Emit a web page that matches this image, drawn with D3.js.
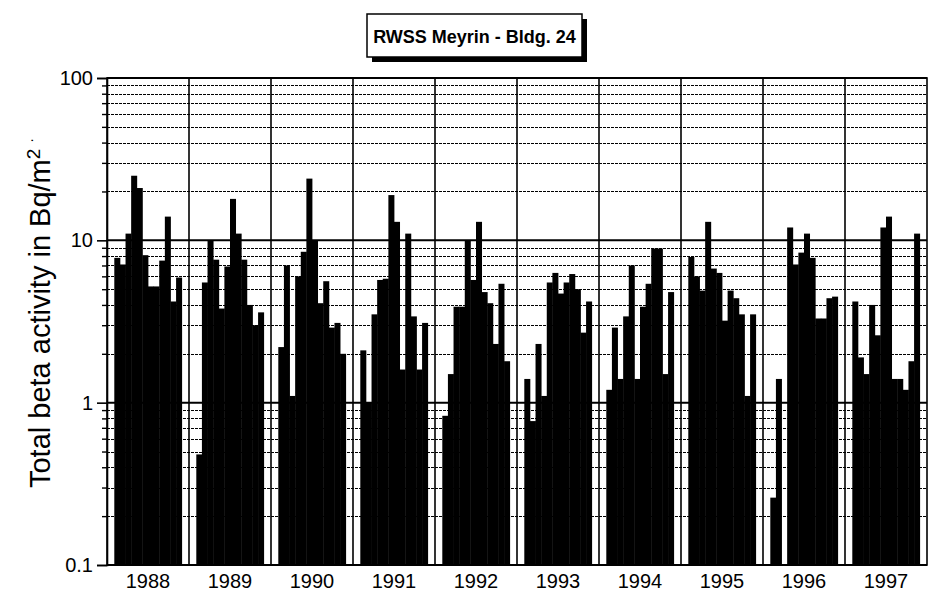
<!DOCTYPE html>
<html>
<head>
<meta charset="utf-8">
<script src="https://cdn.jsdelivr.net/npm/d3@7/dist/d3.min.js"></script>
<style>
body{margin:0;background:#fff;}
text{font-family:Arial,"Liberation Sans",sans-serif;fill:#000;}
</style>
</head>
<body>
<svg id="chart"></svg>
<script>
// monthly total beta activity, Bq/m2
var years = ["1988","1989","1990","1991","1992","1993","1994","1995","1996","1997"];
var months = ["Jan","Feb","Mar","Apr","May","Jun","Jul","Aug","Sep","Oct","Nov","Dec"];

var v1988 = [7.8, 7.1, 11, 25, 21, 8.1, 5.2, 5.2, 7.5, 14, 4.2, 5.9];
var v1989 = [0.48, 5.5, 10, 7.6, 3.8, 6.9, 18, 11, 7.6, 4.0, 3.0, 3.6];
var v1990 = [2.2, 7.0, 1.1, 6.0, 8.5, 24, 10, 4.1, 5.6, 2.9, 3.1, 2.0];
var v1991 = [2.1, 1.0, 3.5, 5.7, 5.8, 19, 13, 1.6, 11, 3.4, 1.6, 3.1];
var v1992 = [0.83, 1.5, 3.9, 3.9, 10, 5.7, 13, 4.8, 4.1, 2.3, 5.4, 1.8];
var v1993 = [1.4, 0.77, 2.3, 1.1, 5.5, 6.3, 4.7, 5.5, 6.2, 5.0, 2.7, 4.2];
var v1994 = [1.2, 2.9, 1.4, 3.4, 7.0, 1.4, 3.9, 5.4, 8.9, 8.9, 1.5, 4.8];
var v1995 = [7.9, 6.0, 4.9, 13, 6.7, 6.3, 3.2, 4.9, 4.4, 3.5, 1.1, 3.5];
var v1996 = [0.26, 1.4, null, 12, 7.1, 8.4, 11, 7.8, 3.3, 3.3, 4.4, 4.5];
var v1997 = [4.2, 1.9, 1.5, 4.0, 2.6, 12, 14, 1.4, 1.4, 1.2, 1.8, 11];

var activity = [v1988, v1989, v1990, v1991, v1992, v1993, v1994, v1995, v1996, v1997];

var yTicks = [0.1, 1, 10, 100];
var yTickLabels = ["0.1", "1", "10", "100"];
var minorSteps = [2, 3, 4, 5, 6, 7, 8, 9];

var titleText = "RWSS Meyrin - Bldg. 24";

var drawChart = function(target)
{
    var screen = {width:929, height:603};
    var margins = {top:78, bottom:38, left:107, right:2};
    var graph =
    {
        width:screen.width-margins.left-margins.right,
        height:screen.height-margins.top-margins.bottom
    };

    var svg = d3.select(target)
        .attr("width",screen.width)
        .attr("height",screen.height);

    var g = svg.append("g")
        .attr("transform","translate("+margins.left+","+margins.top+")");

    var xScale = d3.scaleBand()
        .domain(years)
        .range([0,graph.width]);

    var mScale = d3.scaleBand()
        .domain(months)
        .range([0,xScale.bandwidth()])
        .paddingInner(0)
        .paddingOuter(1.3);

    var yScale = d3.scaleLog()
        .domain([0.1,100])
        .range([graph.height,0]);

    // minor grid values between the decades
    var minors = [];
    yTicks.slice(0,-1).forEach(function(d)
    {
        minorSteps.forEach(function(k){ minors.push(d*k); });
    });

    g.append("g").selectAll("line")
        .data(minors)
        .enter()
        .append("line")
        .attr("x1",0)
        .attr("x2",graph.width)
        .attr("y1",function(d){ return Math.round(yScale(d))+0.5; })
        .attr("y2",function(d){ return Math.round(yScale(d))+0.5; })
        .attr("stroke","#000")
        .attr("stroke-width",1.5)
        .attr("stroke-dasharray","3,1")
        .attr("shape-rendering","crispEdges");

    g.append("g").selectAll("line")
        .data(yTicks)
        .enter()
        .append("line")
        .attr("x1",0)
        .attr("x2",graph.width)
        .attr("y1",function(d){ return yScale(d); })
        .attr("y2",function(d){ return yScale(d); })
        .attr("stroke","#000")
        .attr("stroke-width",2);

    // year dividers
    g.append("g").selectAll("line")
        .data(years.slice(1))
        .enter()
        .append("line")
        .attr("x1",function(d){ return xScale(d); })
        .attr("x2",function(d){ return xScale(d); })
        .attr("y1",0)
        .attr("y2",graph.height)
        .attr("stroke","#000")
        .attr("stroke-width",1.6);

    // bars
    var yearGroups = g.append("g")
        .selectAll("g")
        .data(activity)
        .enter()
        .append("g")
        .attr("transform",function(d,i){ return "translate("+xScale(years[i])+",0)"; });

    yearGroups.selectAll("rect")
        .data(function(d){ return d.map(function(v,j){ return {month:months[j], value:v}; })
            .filter(function(e){ return e.value != null; }); })
        .enter()
        .append("rect")
        .attr("x",function(d){ return mScale(d.month); })
        .attr("width",mScale.bandwidth()+0.4)
        .attr("y",function(d){ return yScale(d.value); })
        .attr("height",function(d){ return graph.height-yScale(d.value); })
        .attr("fill","#000");

    // frame
    g.append("rect")
        .attr("width",graph.width)
        .attr("height",graph.height)
        .attr("fill","none")
        .attr("stroke","#000")
        .attr("stroke-width",1.6);

    // axes
    var yAxis = d3.axisLeft(yScale)
        .tickValues(yTicks)
        .tickSize(10)
        .tickPadding(4)
        .tickFormat(function(d,i){ return yTickLabels[i]; });

    var yAxisG = g.append("g").call(yAxis);
    yAxisG.select(".domain").attr("stroke-width",1.6);
    yAxisG.selectAll(".tick line").attr("stroke-width",1.6);
    yAxisG.selectAll("text").style("font-size","20px");

    var yMinor = d3.axisLeft(yScale)
        .tickValues(minors)
        .tickSize(5)
        .tickFormat("");
    var yMinorG = g.append("g").call(yMinor);
    yMinorG.select(".domain").remove();
    yMinorG.selectAll(".tick line").attr("stroke-width",1.4);

    var xAxis = d3.axisBottom(xScale)
        .tickSize(0)
        .tickPadding(9);
    var xAxisG = g.append("g")
        .attr("transform","translate(0,"+graph.height+")")
        .call(xAxis);
    xAxisG.select(".domain").remove();
    xAxisG.selectAll("text").style("font-size","20px");

    // y label
    var ylab = svg.append("text")
        .attr("transform","translate(50,313) rotate(-90)")
        .attr("text-anchor","middle")
        .style("font-size","29px");
    ylab.append("tspan").text("Total beta activity in Bq/m");
    ylab.append("tspan").attr("dy",-10).style("font-size","19px").text("2");
    ylab.append("tspan").attr("dy",-4).attr("dx",6).style("font-size","14px").text("\u00b7");

    // title box with shadow
    var box = {x:367, y:14, w:215, h:43};
    svg.append("rect")
        .attr("x",box.x+5).attr("y",box.y+5)
        .attr("width",box.w).attr("height",box.h)
        .attr("fill","#000");
    svg.append("rect")
        .attr("x",box.x).attr("y",box.y)
        .attr("width",box.w).attr("height",box.h)
        .attr("fill","#fff")
        .attr("stroke","#000")
        .attr("stroke-width",1.5);
    svg.append("text")
        .attr("x",box.x+box.w/2)
        .attr("y",box.y+box.h/2+7)
        .attr("text-anchor","middle")
        .style("font-size","18px")
        .style("font-weight","bold")
        .text(titleText);
};

drawChart("#chart");
</script>
</body>
</html>
